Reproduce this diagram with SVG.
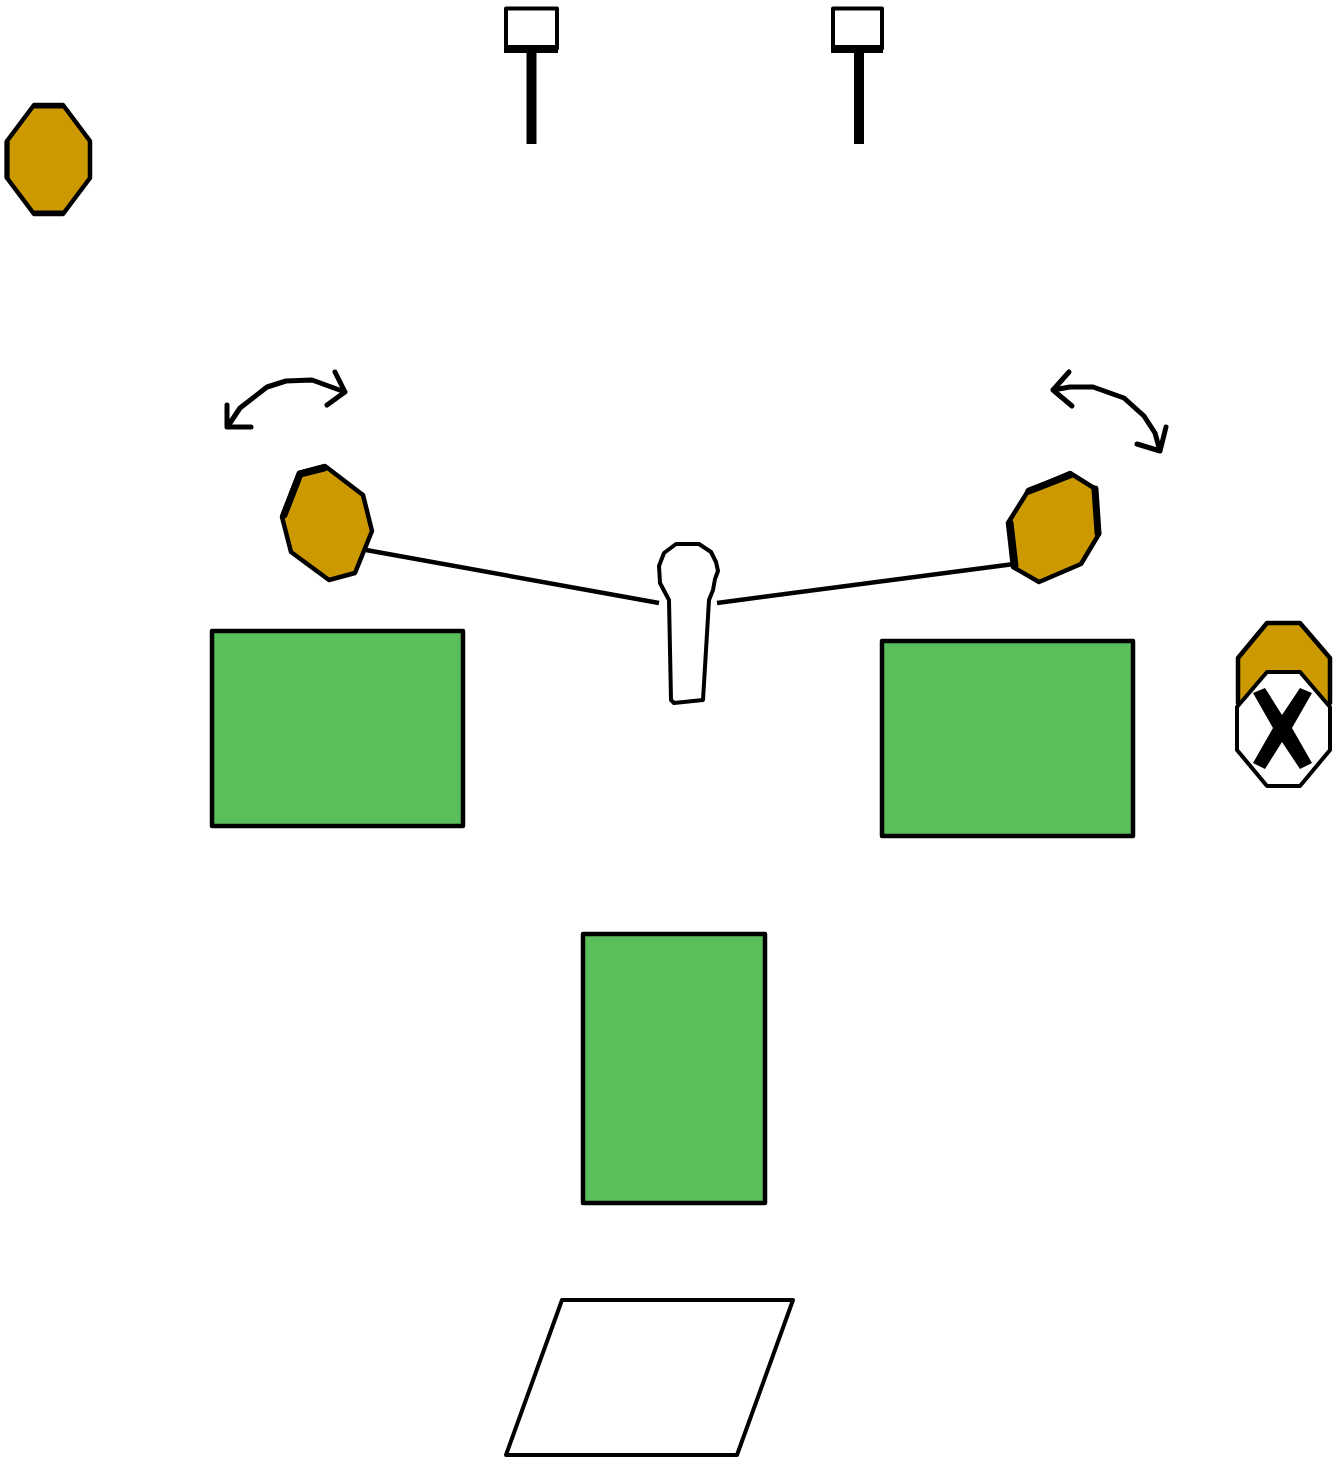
<svg xmlns="http://www.w3.org/2000/svg" width="1341" height="1457" viewBox="0 0 1341 1457">
<style>
.g{fill:#5abf5a;stroke:#000;stroke-width:4.500;stroke-linejoin:round}
.o{fill:#cc9900;stroke:#000;stroke-width:4.500;stroke-linejoin:round}
.w{fill:#fff;stroke:#000;stroke-width:4;stroke-linejoin:round}
.l{fill:none;stroke:#000;stroke-width:4.500;stroke-linejoin:round}
.a{fill:none;stroke:#000;stroke-width:5;stroke-linejoin:round;stroke-linecap:round}
.e{fill:none;stroke:#000;stroke-width:7;stroke-linecap:round;stroke-linejoin:round}
.t{fill:none;stroke:#000;stroke-width:10}
.b{fill:none;stroke:#000;stroke-width:8}
</style>
<rect width="1341" height="1457" fill="#fff"/>
<g id="stand-left">
<rect class="w" x="506" y="8.500" width="51" height="40"/>
<path class="b" d="M504 49H558"/>
<path class="t" d="M531.500 50V144"/>
</g>
<g id="stand-right">
<rect class="w" x="833" y="8.500" width="49" height="40"/>
<path class="b" d="M831 49H883"/>
<path class="t" d="M859 50V144"/>
</g>
<g id="octagon-top-left">
<path class="o" d="M34 105H63L90 141V178L63 214H34L7 178V141Z"/>
<path class="e" style="stroke-width:5" d="M35 106H62M35 213H62M7 142V177"/>
</g>
<g id="octagon-left">
<path class="o" d="M299 473L325 466L363 495L372 531L355 573L329 580L291 552L282 517Z"/>
<path class="e" d="M284 515L300 474L324 468"/>
</g>
<g id="octagon-right">
<path class="o" d="M1028 491L1070 473L1094 488L1099 534L1081 564L1039 582L1013 567L1008 523Z"/>
<path class="e" d="M1010 523L1015 566M1029 491L1070 475M1095 489L1098 533"/>
</g>
<g id="octagon-pair">
<path class="o" d="M1267 623H1300L1330 658V703L1300 738H1267L1238 703V658Z"/>
<path class="w" d="M1267 672H1300L1330 707V750L1300 786H1267L1237 750V707Z"/>
<path d="M1253 693L1265 688L1282 715L1300 688L1312 693L1292 728L1312 763L1300 769L1282 742L1265 769L1253 763L1273 728Z" fill="#000"/>
</g>
<g id="figure">
<path class="w" d="M676 544H699L711 552L716 562L718 571L715 579L713 590L709 600L703 700L674 703L671 700L669 600L660 583L659 566L664 553Z"/>
</g>
<g id="table-left"><rect class="g" x="212" y="631" width="251" height="195"/></g>
<g id="table-right"><rect class="g" x="882" y="641" width="251" height="195"/></g>
<g id="table-center"><rect class="g" x="583" y="934" width="182" height="269"/></g>
<g id="mat"><path class="w" d="M562 1300H793L737 1455H506Z"/></g>
<g id="connectors">
<path class="l" d="M366 550L659 603"/>
<path class="l" d="M717 603L1014 564"/>
<path class="a" d="M228 426L240 408L267 387L286 381L312 380L345 392M335 372L345 392L327 405M227 405L227 427H251"/>
<path class="a" d="M1053 390L1070 387L1093 387L1124 398L1144 416L1155 433L1160 451M1069 372L1053 390L1072 406M1166 427L1160 451L1137 444"/>
</g>
</svg>
